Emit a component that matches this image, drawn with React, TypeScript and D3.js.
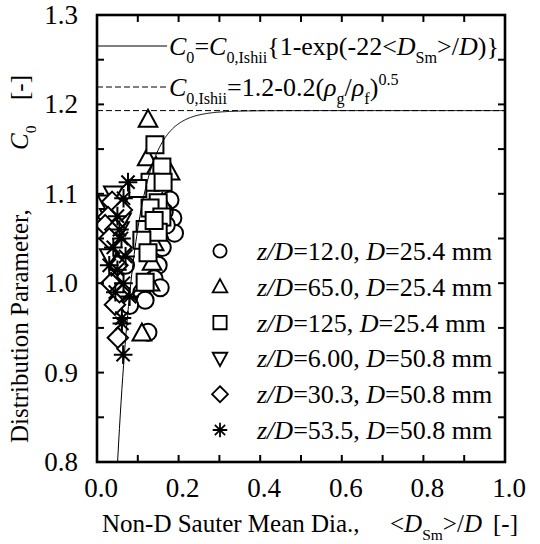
import React, { useEffect, useRef } from 'react';
import * as d3 from 'd3';

// axis ticks
const xTickLabels = [0, 0.2, 0.4, 0.6, 0.8, 1.0];
const xMinorTicks = [0.1, 0.3, 0.5, 0.7, 0.9];
const yTickLabels = [0.8, 0.9, 1.0, 1.1, 1.2, 1.3];
const yMinorTicks = [0.85, 0.95, 1.05, 1.15, 1.25];

// legend texts
const zdValues = ['12.0', '65.0', '125', '6.00', '30.3', '53.5'];
const pipeDia = ['25.4', '25.4', '25.4', '50.8', '50.8', '50.8'];
const markerTypes = ['circle', 'triangle', 'square', 'invTriangle', 'diamond', 'asterisk'];

// measured data [<DSm>/D, C0]
const zd12_d25 = [
  [0.179, 1.093], [0.186, 1.073], [0.19, 1.056], [0.17, 1.065], [0.16, 1.04], [0.15, 1.02],
  [0.11, 0.99], [0.118, 0.981], [0.125, 0.945], [0.165, 1.08], [0.14, 1.005], [0.155, 0.995],
  [0.08, 0.975], [0.07, 1.02]
];
const zd65_d25 = [
  [0.125, 1.183], [0.123, 1.14], [0.179, 1.124], [0.135, 1.023], [0.13, 1.0], [0.11, 0.944],
  [0.145, 1.13], [0.16, 1.09], [0.15, 1.06], [0.14, 1.045]
];
const zd125_d25 = [
  [0.142, 1.155], [0.159, 1.13], [0.13, 1.113], [0.162, 1.113], [0.1, 1.106], [0.15, 1.09],
  [0.13, 1.084], [0.159, 1.074], [0.118, 1.06], [0.15, 1.057], [0.11, 1.048], [0.125, 1.034],
  [0.118, 1.001], [0.14, 1.07]
];
const zd6_d51 = [
  [0.025, 1.09], [0.03, 1.075], [0.04, 1.065], [0.035, 1.055], [0.05, 1.085], [0.045, 1.04],
  [0.055, 1.06], [0.03, 1.03], [0.06, 1.07], [0.04, 1.1]
];
const zd30_d51 = [
  [0.037, 1.091], [0.027, 1.074], [0.061, 1.082], [0.02, 1.065], [0.045, 1.06], [0.05, 1.02],
  [0.044, 0.976], [0.051, 0.939], [0.035, 1.0], [0.06, 1.04], [0.03, 1.05], [0.055, 0.99]
];
const zd53_d51 = [
  [0.076, 1.113], [0.065, 1.095], [0.05, 1.075], [0.06, 1.05], [0.04, 1.04], [0.07, 1.03],
  [0.05, 1.015], [0.065, 1.0], [0.045, 0.99], [0.08, 0.985], [0.061, 0.961], [0.061, 0.955],
  [0.064, 0.92], [0.055, 1.06], [0.03, 1.02]
];
const seriesData = [zd12_d25, zd65_d25, zd125_d25, zd6_d51, zd30_d51, zd53_d51];

// model constants
const rhoRatio = 1.2 / 998;
const c0Ishii = 1.2 - 0.2 * Math.sqrt(rhoRatio);
const expCoef = 22;

const FONT = '"Liberation Serif", "DejaVu Serif", "Times New Roman", Times, serif';

function markerPath(type: string, k: number) {
  const p = d3.path();
  const r = 8.5 * k;
  if (type === 'circle') {
    p.arc(0, 0, r, 0, Math.PI * 2);
  } else if (type === 'square') {
    p.rect(-r, -r, 2 * r, 2 * r);
  } else if (type === 'triangle') {
    p.moveTo(0, -r * 1.15); p.lineTo(r * 1.1, r * 0.85); p.lineTo(-r * 1.1, r * 0.85); p.closePath();
  } else if (type === 'invTriangle') {
    p.moveTo(0, r * 1.15); p.lineTo(r * 1.1, -r * 0.85); p.lineTo(-r * 1.1, -r * 0.85); p.closePath();
  } else if (type === 'diamond') {
    const d = r * 1.2;
    p.moveTo(0, -d); p.lineTo(d, 0); p.lineTo(0, d); p.lineTo(-d, 0); p.closePath();
  } else {
    const a = r * 1.1;
    for (let i = 0; i < 4; i++) {
      const t = (i * Math.PI) / 4;
      p.moveTo(-a * Math.cos(t), -a * Math.sin(t));
      p.lineTo(a * Math.cos(t), a * Math.sin(t));
    }
  }
  return p.toString();
}

// segs: [text, style] style: i italic, b subscript, p superscript
function richText(g: any, x: number, y: number, size: number, segs: any[], rotate = false) {
  const t = g.append('text')
    .attr('x', x)
    .attr('y', y)
    .attr('font-size', size)
    .attr('font-family', FONT)
    .attr('fill', '#000')
    .style('white-space', 'pre');
  if (rotate) t.attr('transform', `rotate(-90, ${x}, ${y})`);
  let off = 0;
  segs.forEach((s: any) => {
    const st = s[1] || '';
    const target = st.includes('b') ? size * 0.3 : st.includes('p') ? -size * 0.42 : 0;
    const ts = t.append('tspan').attr('dy', target - off).text(s[0]);
    if (st.includes('b') || st.includes('p')) ts.attr('font-size', size * 0.62);
    if (st.includes('i')) ts.attr('font-style', 'italic');
    off = target;
  });
  return t;
}

export default function App() {
  const ref = useRef<SVGSVGElement>(null);

  useEffect(() => {
    const svg = d3.select(ref.current);
    svg.selectAll('*').remove();
    const left = 97, right = 505, top = 15, bottom = 462;
    const x = d3.scaleLinear().domain([0, 1]).range([left, right]);
    const y = d3.scaleLinear().domain([0.8, 1.3]).range([bottom, top]);

    svg.append('defs').append('clipPath').attr('id', 'plotClip')
      .append('rect').attr('x', left).attr('y', top).attr('width', right - left).attr('height', bottom - top);

    // data markers
    const dataG = svg.append('g').attr('clip-path', 'url(#plotClip)');
    seriesData.forEach((arr, i) => {
      dataG.append('g').selectAll('path')
        .data(arr)
        .enter()
        .append('path')
        .attr('d', markerPath(markerTypes[i], 1))
        .attr('transform', (d: number[]) => `translate(${x(d[0])},${y(d[1])})`)
        .attr('fill', markerTypes[i] === 'asterisk' ? 'none' : '#fff')
        .attr('stroke', '#000')
        .attr('stroke-width', 2);
    });

    // Ishii constant (dashed) and correlation (solid)
    dataG.append('line')
      .attr('x1', x(0)).attr('x2', x(1))
      .attr('y1', y(c0Ishii)).attr('y2', y(c0Ishii))
      .attr('stroke', '#000').attr('stroke-width', 1).attr('stroke-dasharray', '6,3');
    const xs = d3.range(0.045, 1.0001, 0.002);
    const line = d3.line<number>()
      .x(v => x(v))
      .y(v => y(c0Ishii * (1 - Math.exp(-expCoef * v))));
    dataG.append('path').attr('d', line(xs)).attr('fill', 'none').attr('stroke', '#000').attr('stroke-width', 1);

    // frame + ticks
    const tl = 7;
    const axG = svg.append('g').attr('stroke', '#000');
    xTickLabels.concat(xMinorTicks).forEach(v => {
      axG.append('line').attr('x1', x(v)).attr('x2', x(v)).attr('y1', bottom).attr('y2', bottom - tl).attr('stroke-width', 2);
      axG.append('line').attr('x1', x(v)).attr('x2', x(v)).attr('y1', top).attr('y2', top + tl).attr('stroke-width', 2);
    });
    yTickLabels.concat(yMinorTicks).forEach(v => {
      axG.append('line').attr('x1', left).attr('x2', left + tl).attr('y1', y(v)).attr('y2', y(v)).attr('stroke-width', 2);
      axG.append('line').attr('x1', right).attr('x2', right - tl).attr('y1', y(v)).attr('y2', y(v)).attr('stroke-width', 2);
    });
    axG.append('rect').attr('x', left).attr('y', top).attr('width', right - left).attr('height', bottom - top)
      .attr('fill', 'none').attr('stroke-width', 2.6);

    // tick labels
    xTickLabels.forEach(v => {
      svg.append('text').attr('x', x(v) + 4).attr('y', bottom + 35)
        .attr('text-anchor', 'middle').attr('font-size', 27).attr('font-family', FONT)
        .text(d3.format('.1f')(v));
    });
    yTickLabels.forEach(v => {
      svg.append('text').attr('x', left - 19).attr('y', y(v) + 9)
        .attr('text-anchor', 'end').attr('font-size', 27).attr('font-family', FONT)
        .text(d3.format('.1f')(v));
    });

    // axis titles
    richText(svg, 102, 532, 25, [['Non-D Sauter Mean Dia.,']]);
    richText(svg, 390, 532, 25, [['<'], ['D', 'i'], ['Sm', 'b'], ['>/'], ['D', 'i']]);
    richText(svg, 493, 532, 25, [['[-]']]);
    richText(svg, 28, 443, 25, [['Distribution Parameter,']], true);
    richText(svg, 28, 150, 25, [['C', 'i'], ['0', 'b']], true);
    richText(svg, 28, 100, 25, [['[-]']], true);

    // model legend
    svg.append('line').attr('x1', left).attr('x2', 167).attr('y1', 46).attr('y2', 46)
      .attr('stroke', '#000').attr('stroke-width', 1);
    svg.append('line').attr('x1', left).attr('x2', 167).attr('y1', 87).attr('y2', 87)
      .attr('stroke', '#000').attr('stroke-width', 1).attr('stroke-dasharray', '6,3');
    richText(svg, 169, 55, 26, [
      ['C', 'i'], ['0', 'b'], ['='], ['C', 'i'], ['0,Ishii', 'b'], ['{1-exp(-22<'], ['D', 'i'], ['Sm', 'b'], ['>/'], ['D', 'i'], [')}']
    ]);
    richText(svg, 169, 96, 26, [
      ['C', 'i'], ['0,Ishii', 'b'], ['=1.2-0.2('], ['ρ', 'i'], ['g', 'b'], ['/'], ['ρ', 'i'], ['f', 'b'], [')'], ['0.5', 'p']
    ]);

    // data legend
    zdValues.forEach((zd, i) => {
      const cy = 251 + i * 35.8;
      svg.append('path').attr('d', markerPath(markerTypes[i], 0.78))
        .attr('transform', `translate(220,${cy})`)
        .attr('fill', 'none').attr('stroke', '#000').attr('stroke-width', 1.8);
      richText(svg, 257, cy + 9, 26, [['z/D', 'i'], ['=' + zd + ', '], ['D', 'i'], ['=' + pipeDia[i] + ' mm']]);
    });
  }, []);

  return (
    <div style={{ position: 'absolute', left: 0, top: 0 }}>
      <svg ref={ref} width={540} height={544} style={{ display: 'block', background: '#fff' }} />
    </div>
  );
}
